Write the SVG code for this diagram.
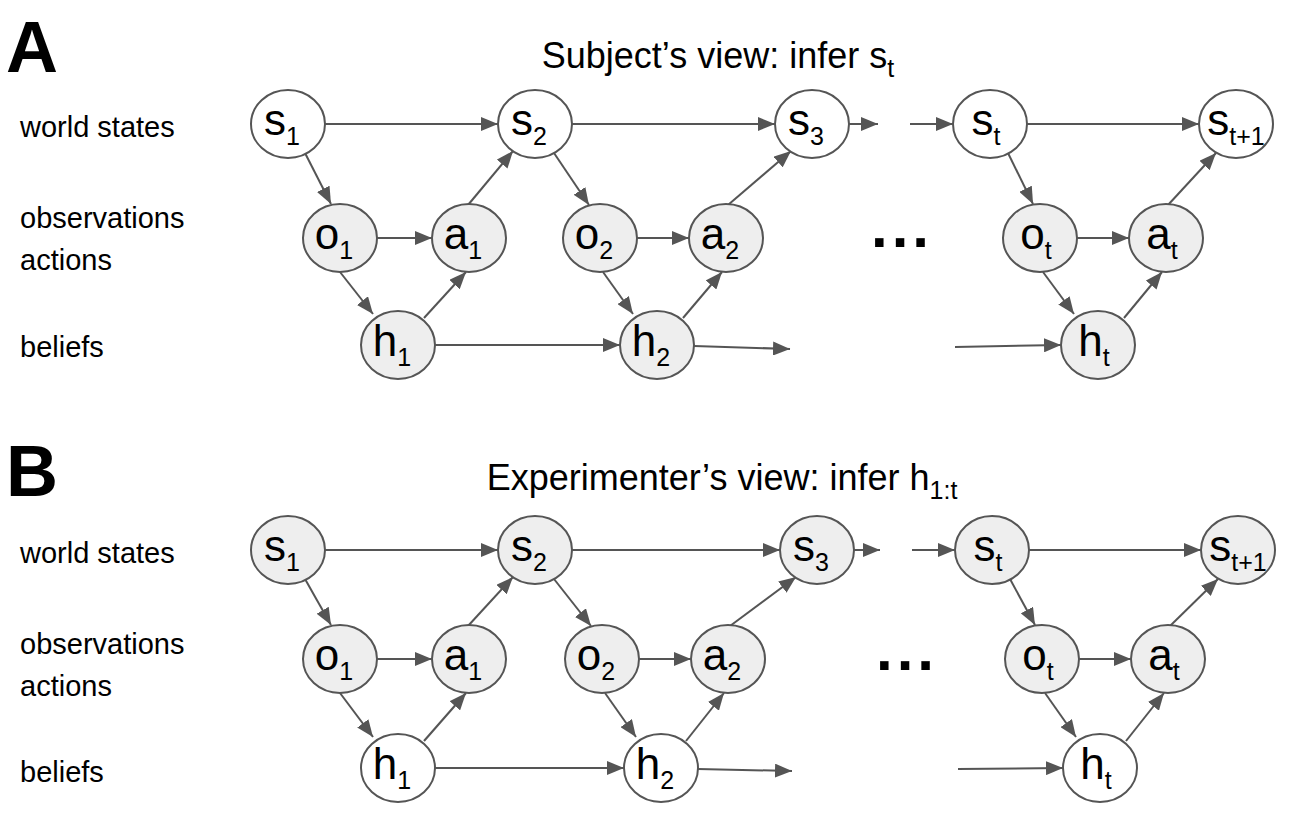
<svg xmlns="http://www.w3.org/2000/svg" width="1306" height="818" viewBox="0 0 1306 818">
<style>
text{font-family:"Liberation Sans",Arial,sans-serif;fill:#000}
.n ellipse{stroke:#555;stroke-width:2}
.w{fill:#fff}.g{fill:#eee}
.t{font-size:44px;text-anchor:middle}
.sub{font-size:25px}
.lbl{font-size:29px}
.ttl{font-size:36px}
.big{font-size:72px;font-weight:bold}
.dots{font-size:60px;font-weight:bold;text-anchor:middle;letter-spacing:4px}
#edges line{stroke:#555;stroke-width:2;marker-end:url(#ar)}
</style>
<defs>
<marker id="ar" viewBox="0 0 10 10" refX="10" refY="5" markerWidth="17" markerHeight="14" markerUnits="userSpaceOnUse" orient="auto" preserveAspectRatio="none"><path d="M0,0L10,5L0,10z" fill="#555"/></marker>
</defs>
<rect width="1306" height="818" fill="#fff"/>
<text class="big" x="6" y="72">A</text>
<text class="big" x="6" y="496">B</text>
<text class="ttl" x="718" y="68" text-anchor="middle">Subject’s view: infer s<tspan class="sub" dy="9">t</tspan></text>
<text class="ttl" x="722" y="490" text-anchor="middle">Experimenter’s view: infer h<tspan class="sub" dy="9">1:t</tspan></text>
<g>
<text class="lbl" x="20" y="137">world states</text>
<text class="lbl" x="20" y="228">observations</text>
<text class="lbl" x="20" y="270">actions</text>
<text class="lbl" x="20" y="357">beliefs</text>
<text class="lbl" x="20" y="563">world states</text>
<text class="lbl" x="20" y="654">observations</text>
<text class="lbl" x="20" y="696">actions</text>
<text class="lbl" x="20" y="782">beliefs</text>
</g>
<text class="dots" x="902" y="247">...</text>
<text class="dots" x="907" y="670">...</text>
<g id="edges">
<line x1="325" y1="124" x2="498" y2="124"/>
<line x1="572" y1="124" x2="775" y2="124"/>
<line x1="849" y1="124" x2="878" y2="124"/>
<line x1="910" y1="124" x2="953" y2="124"/>
<line x1="1027" y1="124" x2="1199" y2="124"/>
<line x1="305" y1="153" x2="331" y2="204"/>
<line x1="377" y1="238" x2="432" y2="238"/>
<line x1="340" y1="272" x2="373" y2="314"/>
<line x1="424" y1="318" x2="466" y2="272"/>
<line x1="468" y1="205" x2="513" y2="151"/>
<line x1="435" y1="345" x2="620" y2="345"/>
<line x1="554" y1="153" x2="589" y2="205"/>
<line x1="637" y1="238" x2="689" y2="238"/>
<line x1="603" y1="272" x2="633" y2="314"/>
<line x1="683" y1="318" x2="722" y2="272"/>
<line x1="728" y1="205" x2="791" y2="151"/>
<line x1="694" y1="346" x2="790" y2="349"/>
<line x1="955" y1="347" x2="1061" y2="345"/>
<line x1="1008" y1="153" x2="1033" y2="204"/>
<line x1="1077" y1="238" x2="1129" y2="238"/>
<line x1="1043" y1="272" x2="1074" y2="314"/>
<line x1="1124" y1="318" x2="1162" y2="272"/>
<line x1="1168" y1="205" x2="1216" y2="153"/>
<line x1="325" y1="550" x2="498" y2="550"/>
<line x1="572" y1="550" x2="780" y2="550"/>
<line x1="854" y1="550" x2="880" y2="550"/>
<line x1="912" y1="550" x2="955" y2="550"/>
<line x1="1029" y1="550" x2="1201" y2="550"/>
<line x1="305" y1="579" x2="331" y2="625"/>
<line x1="377" y1="659" x2="432" y2="659"/>
<line x1="340" y1="693" x2="373" y2="737"/>
<line x1="424" y1="741" x2="466" y2="693"/>
<line x1="468" y1="626" x2="513" y2="577"/>
<line x1="435" y1="768" x2="624" y2="768"/>
<line x1="554" y1="579" x2="591" y2="626"/>
<line x1="639" y1="659" x2="691" y2="659"/>
<line x1="605" y1="693" x2="636" y2="737"/>
<line x1="686" y1="741" x2="724" y2="693"/>
<line x1="730" y1="626" x2="796" y2="577"/>
<line x1="698" y1="769" x2="792" y2="771"/>
<line x1="958" y1="769" x2="1063" y2="768"/>
<line x1="1010" y1="579" x2="1035" y2="625"/>
<line x1="1079" y1="659" x2="1131" y2="659"/>
<line x1="1045" y1="693" x2="1076" y2="737"/>
<line x1="1126" y1="741" x2="1164" y2="693"/>
<line x1="1170" y1="626" x2="1218" y2="579"/>
</g>
<g id="A_s1" class="n"><ellipse class="w" cx="288" cy="124" rx="37" ry="34"/><text class="t" x="282" y="135">s<tspan class="sub" dy="10">1</tspan></text></g>
<g id="A_s2" class="n"><ellipse class="w" cx="535" cy="124" rx="37" ry="34"/><text class="t" x="529" y="135">s<tspan class="sub" dy="10">2</tspan></text></g>
<g id="A_s3" class="n"><ellipse class="w" cx="812" cy="124" rx="37" ry="34"/><text class="t" x="806" y="135">s<tspan class="sub" dy="10">3</tspan></text></g>
<g id="A_st" class="n"><ellipse class="w" cx="990" cy="124" rx="37" ry="34"/><text class="t" x="986" y="135">s<tspan class="sub" dy="10">t</tspan></text></g>
<g id="A_st1" class="n"><ellipse class="w" cx="1236" cy="124" rx="37" ry="34"/><text class="t" x="1236" y="135">s<tspan class="sub" dy="10">t+1</tspan></text></g>
<g id="A_o1" class="n"><ellipse class="g" cx="340" cy="238" rx="37" ry="34"/><text class="t" x="334" y="249">o<tspan class="sub" dy="10">1</tspan></text></g>
<g id="A_a1" class="n"><ellipse class="g" cx="469" cy="238" rx="37" ry="34"/><text class="t" x="463" y="249">a<tspan class="sub" dy="10">1</tspan></text></g>
<g id="A_o2" class="n"><ellipse class="g" cx="600" cy="238" rx="37" ry="34"/><text class="t" x="594" y="249">o<tspan class="sub" dy="10">2</tspan></text></g>
<g id="A_a2" class="n"><ellipse class="g" cx="726" cy="238" rx="37" ry="34"/><text class="t" x="720" y="249">a<tspan class="sub" dy="10">2</tspan></text></g>
<g id="A_ot" class="n"><ellipse class="g" cx="1040" cy="238" rx="37" ry="34"/><text class="t" x="1036" y="249">o<tspan class="sub" dy="10">t</tspan></text></g>
<g id="A_at" class="n"><ellipse class="g" cx="1166" cy="238" rx="37" ry="34"/><text class="t" x="1162" y="249">a<tspan class="sub" dy="10">t</tspan></text></g>
<g id="A_h1" class="n"><ellipse class="g" cx="398" cy="345" rx="37" ry="34"/><text class="t" x="392" y="356">h<tspan class="sub" dy="10">1</tspan></text></g>
<g id="A_h2" class="n"><ellipse class="g" cx="657" cy="345" rx="37" ry="34"/><text class="t" x="651" y="356">h<tspan class="sub" dy="10">2</tspan></text></g>
<g id="A_ht" class="n"><ellipse class="g" cx="1098" cy="345" rx="37" ry="34"/><text class="t" x="1094" y="356">h<tspan class="sub" dy="10">t</tspan></text></g>
<g id="B_s1" class="n"><ellipse class="g" cx="288" cy="550" rx="37" ry="34"/><text class="t" x="282" y="561">s<tspan class="sub" dy="10">1</tspan></text></g>
<g id="B_s2" class="n"><ellipse class="g" cx="535" cy="550" rx="37" ry="34"/><text class="t" x="529" y="561">s<tspan class="sub" dy="10">2</tspan></text></g>
<g id="B_s3" class="n"><ellipse class="g" cx="817" cy="550" rx="37" ry="34"/><text class="t" x="811" y="561">s<tspan class="sub" dy="10">3</tspan></text></g>
<g id="B_st" class="n"><ellipse class="g" cx="992" cy="550" rx="37" ry="34"/><text class="t" x="988" y="561">s<tspan class="sub" dy="10">t</tspan></text></g>
<g id="B_st1" class="n"><ellipse class="g" cx="1238" cy="550" rx="37" ry="34"/><text class="t" x="1238" y="561">s<tspan class="sub" dy="10">t+1</tspan></text></g>
<g id="B_o1" class="n"><ellipse class="g" cx="340" cy="659" rx="37" ry="34"/><text class="t" x="334" y="670">o<tspan class="sub" dy="10">1</tspan></text></g>
<g id="B_a1" class="n"><ellipse class="g" cx="469" cy="659" rx="37" ry="34"/><text class="t" x="463" y="670">a<tspan class="sub" dy="10">1</tspan></text></g>
<g id="B_o2" class="n"><ellipse class="g" cx="602" cy="659" rx="37" ry="34"/><text class="t" x="596" y="670">o<tspan class="sub" dy="10">2</tspan></text></g>
<g id="B_a2" class="n"><ellipse class="g" cx="728" cy="659" rx="37" ry="34"/><text class="t" x="722" y="670">a<tspan class="sub" dy="10">2</tspan></text></g>
<g id="B_ot" class="n"><ellipse class="g" cx="1042" cy="659" rx="37" ry="34"/><text class="t" x="1038" y="670">o<tspan class="sub" dy="10">t</tspan></text></g>
<g id="B_at" class="n"><ellipse class="g" cx="1168" cy="659" rx="37" ry="34"/><text class="t" x="1164" y="670">a<tspan class="sub" dy="10">t</tspan></text></g>
<g id="B_h1" class="n"><ellipse class="w" cx="398" cy="768" rx="37" ry="34"/><text class="t" x="392" y="779">h<tspan class="sub" dy="10">1</tspan></text></g>
<g id="B_h2" class="n"><ellipse class="w" cx="661" cy="768" rx="37" ry="34"/><text class="t" x="655" y="779">h<tspan class="sub" dy="10">2</tspan></text></g>
<g id="B_ht" class="n"><ellipse class="w" cx="1100" cy="768" rx="37" ry="34"/><text class="t" x="1096" y="779">h<tspan class="sub" dy="10">t</tspan></text></g>
</svg>
